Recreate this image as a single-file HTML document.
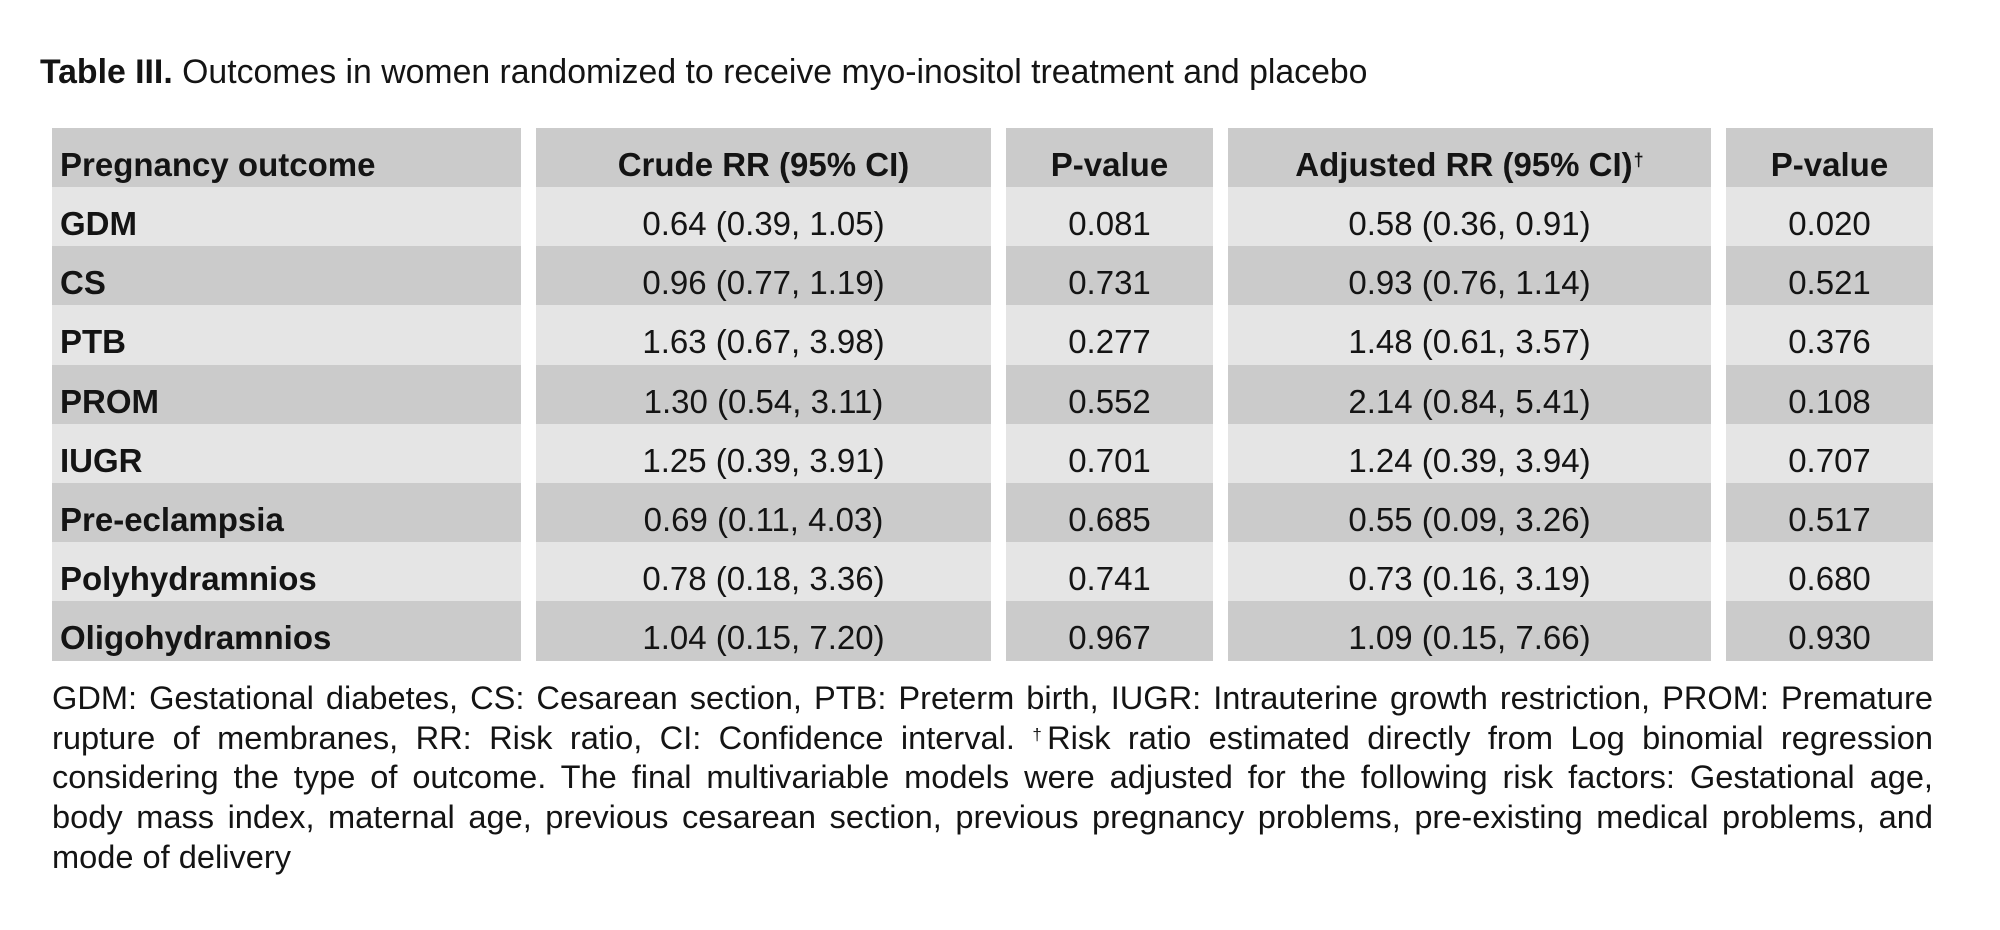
<!DOCTYPE html>
<html>
<head>
<meta charset="utf-8">
<style>
  html, body { margin:0; padding:0; background:#ffffff; }
  body { width:2000px; height:930px; position:relative; overflow:hidden;
         font-family:"Liberation Sans", Arial, sans-serif; color:#141414; }
  .title { position:absolute; left:40px; top:52px; line-height:40px; font-size:33.8px; white-space:nowrap; }
  .title b { font-weight:bold; }
  .cell { position:absolute; font-size:33px; white-space:nowrap; overflow:visible; }
  .cell span { position:relative; }
  .hd { background:#cbcbcb; font-weight:bold; }
  .lt { background:#e5e5e5; }
  .dk { background:#cbcbcb; }
  .c1 { left:52px; width:461px; padding-left:8px; text-align:left; font-weight:bold; }
  .c2 { left:536px; width:455px; text-align:center; }
  .c3 { left:1006px; width:207px; text-align:center; }
  .c4 { left:1228px; width:483px; text-align:center; }
  .c5 { left:1726px; width:207px; text-align:center; }
  sup.dg { font-size:18px; vertical-align:top; position:relative; top:-4px; margin-left:1px; }
  .fn { position:absolute; left:52px; width:1881px; font-size:32.6px; line-height:40px;
        text-align:justify; text-align-last:justify; }
  .fn.last { text-align-last:left; }
  .fn sup { font-size:17px; vertical-align:top; position:relative; top:-3px; margin-right:-3px; }
</style>
</head>
<body>

<div class="title"><b>Table III.</b> Outcomes in women randomized to receive myo-inositol treatment and placebo</div>

<!-- Header row -->
<div class="cell hd c1" style="top:128px;height:59px;line-height:59px;"><span style="top:7px">Pregnancy outcome</span></div>
<div class="cell hd c2" style="top:128px;height:59px;line-height:59px;"><span style="top:7px">Crude RR (95% CI)</span></div>
<div class="cell hd c3" style="top:128px;height:59px;line-height:59px;"><span style="top:7px">P-value</span></div>
<div class="cell hd c4" style="top:128px;height:59px;line-height:59px;"><span style="top:7px">Adjusted RR (95% CI)<sup class="dg">†</sup></span></div>
<div class="cell hd c5" style="top:128px;height:59px;line-height:59px;"><span style="top:7px">P-value</span></div>

<!-- Row 1 GDM -->
<div class="cell lt c1" style="top:187px;height:59.2px;line-height:59px;"><span style="top:7px">GDM</span></div>
<div class="cell lt c2" style="top:187px;height:59.2px;line-height:59px;"><span style="top:7px">0.64 (0.39, 1.05)</span></div>
<div class="cell lt c3" style="top:187px;height:59.2px;line-height:59px;"><span style="top:7px">0.081</span></div>
<div class="cell lt c4" style="top:187px;height:59.2px;line-height:59px;"><span style="top:7px">0.58 (0.36, 0.91)</span></div>
<div class="cell lt c5" style="top:187px;height:59.2px;line-height:59px;"><span style="top:7px">0.020</span></div>

<!-- Row 2 CS -->
<div class="cell dk c1" style="top:246.2px;height:59.2px;line-height:59px;"><span style="top:7px">CS</span></div>
<div class="cell dk c2" style="top:246.2px;height:59.2px;line-height:59px;"><span style="top:7px">0.96 (0.77, 1.19)</span></div>
<div class="cell dk c3" style="top:246.2px;height:59.2px;line-height:59px;"><span style="top:7px">0.731</span></div>
<div class="cell dk c4" style="top:246.2px;height:59.2px;line-height:59px;"><span style="top:7px">0.93 (0.76, 1.14)</span></div>
<div class="cell dk c5" style="top:246.2px;height:59.2px;line-height:59px;"><span style="top:7px">0.521</span></div>

<!-- Row 3 PTB -->
<div class="cell lt c1" style="top:305.4px;height:59.2px;line-height:59px;"><span style="top:7px">PTB</span></div>
<div class="cell lt c2" style="top:305.4px;height:59.2px;line-height:59px;"><span style="top:7px">1.63 (0.67, 3.98)</span></div>
<div class="cell lt c3" style="top:305.4px;height:59.2px;line-height:59px;"><span style="top:7px">0.277</span></div>
<div class="cell lt c4" style="top:305.4px;height:59.2px;line-height:59px;"><span style="top:7px">1.48 (0.61, 3.57)</span></div>
<div class="cell lt c5" style="top:305.4px;height:59.2px;line-height:59px;"><span style="top:7px">0.376</span></div>

<!-- Row 4 PROM -->
<div class="cell dk c1" style="top:364.6px;height:59.2px;line-height:59px;"><span style="top:7px">PROM</span></div>
<div class="cell dk c2" style="top:364.6px;height:59.2px;line-height:59px;"><span style="top:7px">1.30 (0.54, 3.11)</span></div>
<div class="cell dk c3" style="top:364.6px;height:59.2px;line-height:59px;"><span style="top:7px">0.552</span></div>
<div class="cell dk c4" style="top:364.6px;height:59.2px;line-height:59px;"><span style="top:7px">2.14 (0.84, 5.41)</span></div>
<div class="cell dk c5" style="top:364.6px;height:59.2px;line-height:59px;"><span style="top:7px">0.108</span></div>

<!-- Row 5 IUGR -->
<div class="cell lt c1" style="top:423.8px;height:59.2px;line-height:59px;"><span style="top:7px">IUGR</span></div>
<div class="cell lt c2" style="top:423.8px;height:59.2px;line-height:59px;"><span style="top:7px">1.25 (0.39, 3.91)</span></div>
<div class="cell lt c3" style="top:423.8px;height:59.2px;line-height:59px;"><span style="top:7px">0.701</span></div>
<div class="cell lt c4" style="top:423.8px;height:59.2px;line-height:59px;"><span style="top:7px">1.24 (0.39, 3.94)</span></div>
<div class="cell lt c5" style="top:423.8px;height:59.2px;line-height:59px;"><span style="top:7px">0.707</span></div>

<!-- Row 6 Pre-eclampsia -->
<div class="cell dk c1" style="top:483px;height:59.2px;line-height:59px;"><span style="top:7px">Pre-eclampsia</span></div>
<div class="cell dk c2" style="top:483px;height:59.2px;line-height:59px;"><span style="top:7px">0.69 (0.11, 4.03)</span></div>
<div class="cell dk c3" style="top:483px;height:59.2px;line-height:59px;"><span style="top:7px">0.685</span></div>
<div class="cell dk c4" style="top:483px;height:59.2px;line-height:59px;"><span style="top:7px">0.55 (0.09, 3.26)</span></div>
<div class="cell dk c5" style="top:483px;height:59.2px;line-height:59px;"><span style="top:7px">0.517</span></div>

<!-- Row 7 Polyhydramnios -->
<div class="cell lt c1" style="top:542.2px;height:59.2px;line-height:59px;"><span style="top:7px">Polyhydramnios</span></div>
<div class="cell lt c2" style="top:542.2px;height:59.2px;line-height:59px;"><span style="top:7px">0.78 (0.18, 3.36)</span></div>
<div class="cell lt c3" style="top:542.2px;height:59.2px;line-height:59px;"><span style="top:7px">0.741</span></div>
<div class="cell lt c4" style="top:542.2px;height:59.2px;line-height:59px;"><span style="top:7px">0.73 (0.16, 3.19)</span></div>
<div class="cell lt c5" style="top:542.2px;height:59.2px;line-height:59px;"><span style="top:7px">0.680</span></div>

<!-- Row 8 Oligohydramnios -->
<div class="cell dk c1" style="top:601.4px;height:59.3px;line-height:59px;"><span style="top:7px">Oligohydramnios</span></div>
<div class="cell dk c2" style="top:601.4px;height:59.3px;line-height:59px;"><span style="top:7px">1.04 (0.15, 7.20)</span></div>
<div class="cell dk c3" style="top:601.4px;height:59.3px;line-height:59px;"><span style="top:7px">0.967</span></div>
<div class="cell dk c4" style="top:601.4px;height:59.3px;line-height:59px;"><span style="top:7px">1.09 (0.15, 7.66)</span></div>
<div class="cell dk c5" style="top:601.4px;height:59.3px;line-height:59px;"><span style="top:7px">0.930</span></div>

<!-- Footnote -->
<div class="fn" style="top:678px;">GDM: Gestational diabetes, CS: Cesarean section, PTB: Preterm birth, IUGR: Intrauterine growth restriction, PROM: Premature</div>
<div class="fn" style="top:718px;">rupture of membranes, RR: Risk ratio, CI: Confidence interval. <sup>†</sup>Risk ratio estimated directly from Log binomial regression</div>
<div class="fn" style="top:757px;">considering the type of outcome. The final multivariable models were adjusted for the following risk factors: Gestational age,</div>
<div class="fn" style="top:797px;">body mass index, maternal age, previous cesarean section, previous pregnancy problems, pre-existing medical problems, and</div>
<div class="fn last" style="top:837px;">mode of delivery</div>

</body>
</html>
